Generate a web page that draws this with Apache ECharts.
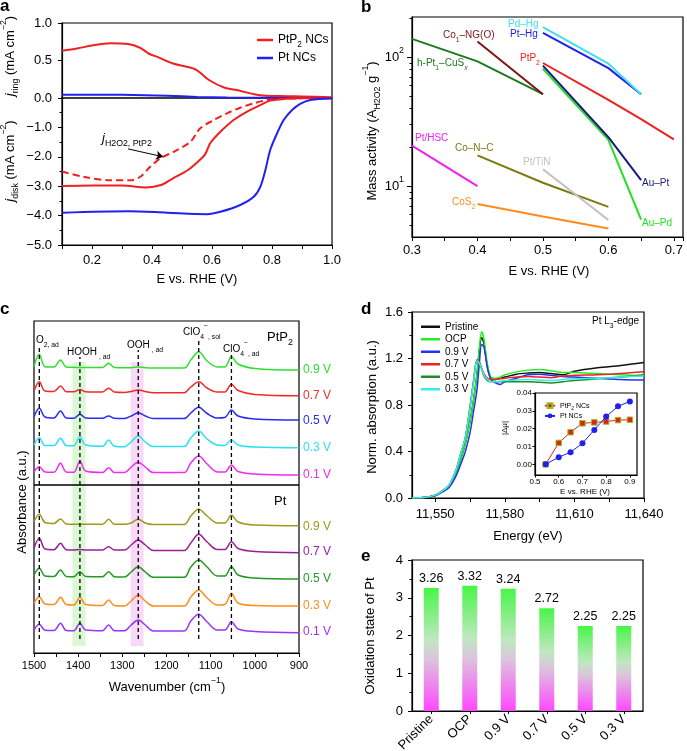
<!DOCTYPE html>
<html>
<head>
<meta charset="utf-8">
<script src="https://cdn.jsdelivr.net/npm/echarts@6.0.0/dist/echarts.min.js"></script>
<style>html,body{margin:0;padding:0;background:#fff;}#chart{width:687px;height:751px;}</style>
</head>
<body>
<div id="chart"></div>
<script>
// ---------------- Panel a data ----------------
const aRingPtP2V = [0.1, 0.15, 0.2, 0.26, 0.32, 0.36, 0.39, 0.42, 0.47, 0.54, 0.56, 0.59, 0.64, 0.69, 0.74, 0.78, 0.85, 0.9, 1.0];
const aRingPtP2J = [0.63, 0.66, 0.70, 0.73, 0.72, 0.67, 0.59, 0.545, 0.46, 0.39, 0.34, 0.24, 0.14, 0.10, 0.05, 0.03, 0.025, 0.02, 0.01];
const aRingPtV = [0.1, 0.3, 0.45, 0.55, 0.65, 0.8, 1.0];
const aRingPtJ = [0.045, 0.042, 0.03, 0.015, 0.008, 0.002, 0.0];
const aDiskPtP2V = [0.1, 0.2, 0.3, 0.38, 0.43, 0.47, 0.52, 0.56, 0.578, 0.594, 0.628, 0.672, 0.717, 0.761, 0.794, 0.84, 0.9, 1.0];
const aDiskPtP2J = [-2.99, -2.98, -2.98, -3.04, -2.96, -2.73, -2.45, -2.1, -1.9, -1.54, -1.15, -0.75, -0.46, -0.24, -0.09, -0.03, -0.01, 0];
const aH2O2V = [0.1, 0.172, 0.261, 0.328, 0.361, 0.394, 0.428, 0.472, 0.528, 0.561, 0.606, 0.65, 0.694, 0.739, 0.783, 0.82, 0.9];
const aH2O2J = [-2.5, -2.68, -2.8, -2.8, -2.68, -2.34, -2.05, -1.83, -1.49, -1.03, -0.75, -0.52, -0.33, -0.18, -0.07, -0.03, -0.01];
const aDiskPtV = [0.1, 0.322, 0.45, 0.583, 0.628, 0.694, 0.739, 0.761, 0.778, 0.794, 0.817, 0.839, 0.867, 0.894, 0.928, 1.0];
const aDiskPtJ = [-3.9, -3.85, -3.9, -3.95, -3.87, -3.64, -3.36, -3.02, -2.45, -1.77, -1.2, -0.75, -0.41, -0.2, -0.07, -0.02];

// ---------------- Panel b data (E, mass activity) ----------------
const bHPtCuS = [[0.3, 138], [0.4, 92.5], [0.5, 51.5]];
const bCoNGO = [[0.4, 132], [0.5, 51.5]];
const bPdHg = [[0.5, 170], [0.6, 88.8], [0.65, 51.5]];
const bPtHg = [[0.5, 154], [0.6, 82], [0.65, 51.5]];
const bPtP2 = [[0.5, 89.8], [0.6, 46.6], [0.65, 33], [0.7, 23]];
const bAuPt = [[0.5, 85.7], [0.6, 23.9], [0.65, 11.1]];
const bAuPd = [[0.5, 81], [0.6, 22.8], [0.65, 5.5]];
const bPtHSC = [[0.3, 20.6], [0.4, 10]];
const bCoNC = [[0.4, 17.3], [0.5, 10.6], [0.6, 6.9]];
const bPtTiN = [[0.5, 13.5], [0.6, 5.45]];
const bCoS2 = [[0.4, 7.25], [0.5, 5.8], [0.6, 4.69]];

// ---------------- Panel c data ----------------
const cWavenumber = [1500,1488,1475,1455,1440,1427,1410,1396,1383,1345,1331,1318,1295,1280,1264,1248,1230,1160,1145,1127,1108,1085,1068,1053,1038,1000,900];
const cPtP2_09 = [286.5,298.7,286.3,286,293,286,285.7,285.5,285.5,285.5,289.7,285.5,285.3,285.3,286,285.3,285,285,293,301.3,292,286,286,296.3,289,284.5,283];
const cPtP2_07 = [262,271.3,262,261.5,267,261.3,261.3,263.5,261.3,261,264.7,261,260.5,261.5,263,261.5,260.3,260.3,266,271.3,265,261,261,268.7,262.5,258.5,257.3];
const cPtP2_05 = [236.3,244.7,236,235,242,235,234.7,238.7,235,234.7,237,234.7,234.5,237,240.3,237,234.5,234.5,240,245.7,239.5,235,235.5,243,237,234,233];
const cPtP2_03 = [208,215.3,207.5,207.5,214.7,207.5,207.3,216.3,208,206.8,213,206.8,206.3,211,217,211,206.5,206.5,215,222,214,208,207.5,213,208,206,205.3];
const cPtP2_01 = [181.3,186.3,181,180.7,189.7,181,180.7,192,182,180.5,185.3,180.5,180.5,186,190.7,186,180.5,180.5,190,197,189,181,181,188,181.5,179,178];
const cPt_09 = [131.3,138.7,130.5,129.5,134,129,128.7,128.8,128.7,128.7,133.7,128.7,128.7,130,133.7,130,128.5,128.5,137,143.7,137,130,130,138,131,128,127.3];
const cPt_07 = [104.7,114.7,104,103.3,109.7,103.3,103,103.5,103,103,106.3,103,103,108,113,108,102.5,102.5,110,118.7,111,103.5,103.5,111.3,104.5,101.5,100.3];
const cPt_05 = [78,84.7,77,76.5,83,76.5,76.3,81.3,76.5,76.3,81.3,76.3,76,81,86.3,81,75.8,75.8,86,93,86,77,77,86.3,78,75,74];
const cPt_03 = [49.7,56.3,49,48.5,55.7,48.5,48,55.7,48.5,47.5,53,47.5,47,52,58,52,47,47,56,63,55,48,48.5,59.7,50,47.5,47];
const cPt_01 = [23,28.7,22.8,22.5,29.7,22.5,22.3,29.7,23,22.3,28,22.3,22.3,28,33,28,22,22,32,38.7,31,23,23,31.3,24,21.5,20.3];
const cPeakLines = [[1488, 308], [1396, 296], [1264, 303], [1127, 314], [1053, 298]];
const cPeakLineBottom = 14;
const cBandRanges = [[1413, 1383], [1281, 1252]];
const cBandY = [7, 291];
const cDivider = 168.7;

// ---------------- Panel d data ----------------
const dEnergy = [11540,11546,11550,11553,11556,11559,11561,11563,11565,11566.5,11568,11569,11570,11571,11572.5,11574,11576,11578,11580,11585,11590,11595,11600,11605,11610,11620,11630,11640];
const dPristine = [0,0.006,0.022,0.055,0.10,0.21,0.33,0.47,0.66,0.84,1.06,1.26,1.38,1.33,1.13,1.03,1.02,1.03,1.04,1.065,1.075,1.08,1.07,1.06,1.09,1.12,1.14,1.165];
const dOCP = [0,0.006,0.022,0.055,0.10,0.21,0.33,0.47,0.66,0.84,1.07,1.29,1.43,1.37,1.15,1.04,1.03,1.04,1.06,1.085,1.10,1.105,1.095,1.08,1.08,1.07,1.06,1.05];
const dV09 = [0,0.005,0.02,0.05,0.09,0.19,0.29,0.40,0.56,0.74,0.93,1.15,1.32,1.30,1.12,1.02,0.99,0.977,1.0,1.03,1.06,1.065,1.055,1.045,1.04,1.03,1.02,1.015];
const dV07 = [0,0.006,0.025,0.06,0.11,0.24,0.38,0.52,0.78,1.0,1.19,1.17,1.12,1.07,1.03,1.02,1.02,1.025,1.03,1.04,1.045,1.04,1.035,1.05,1.055,1.06,1.07,1.085];
const dV05 = [0,0.006,0.025,0.06,0.11,0.24,0.38,0.52,0.78,1.0,1.18,1.16,1.11,1.05,1.01,1.0,1.0,1.0,1.0,1.0,1.0,0.995,0.99,1.0,1.01,1.025,1.04,1.06];
const dV03 = [0,0.006,0.025,0.06,0.11,0.24,0.38,0.52,0.77,0.99,1.18,1.16,1.11,1.06,1.02,1.0,1.0,1.005,1.01,1.015,1.02,1.015,1.01,1.02,1.025,1.03,1.04,1.05];
const insetV = [0.545, 0.6, 0.65, 0.7, 0.75, 0.8, 0.85, 0.9];
const insetPtP2 = [0, 0.012, 0.018, 0.023, 0.0235, 0.024, 0.0248, 0.025];
const insetPt = [0, 0.004, 0.0068, 0.0118, 0.0193, 0.0268, 0.0325, 0.0353];

// ---------------- Panel e data ----------------
const eCategories = ['Pristine', 'OCP', '0.9 V', '0.7 V', '0.5 V', '0.3 V'];
const eValues = [3.26, 3.32, 3.24, 2.72, 2.25, 2.25];

// ---------------- helpers ----------------
const FONT = '"Liberation Sans", Arial, Helvetica, sans-serif';
const K = '#000';
const zip = (xs, ys) => xs.map((x, i) => [x, ys[i]]);
const fmt1 = v => v.toFixed(1).replace('-', '\u2212');
function merge(a, b) {
  const o = Object.assign({}, a);
  for (const k in b) {
    const bv = b[k];
    if (bv && typeof bv === 'object' && !Array.isArray(bv) && a[k] && typeof a[k] === 'object') o[k] = merge(a[k], bv);
    else o[k] = bv;
  }
  return o;
}
function axis(extra) {
  return merge({
    axisLine: {show: true, onZero: false, lineStyle: {color: K, width: 1.2}},
    axisTick: {show: true, inside: false, length: 4, lineStyle: {color: K, width: 1}},
    minorTick: {show: false},
    axisLabel: {color: K, fontFamily: FONT, fontSize: 13},
    splitLine: {show: false},
    minorSplitLine: {show: false}
  }, extra);
}
function rich(size, color, lh) {
  const L = lh || size + 8, s = Math.round(size * 0.68 * 10) / 10;
  return {
    n: {fontFamily: FONT, fontSize: size, lineHeight: L, verticalAlign: 'middle', fill: color, color: color},
    i: {fontFamily: FONT, fontSize: size, fontStyle: 'italic', lineHeight: L, verticalAlign: 'middle', fill: color, color: color},
    b: {fontFamily: FONT, fontSize: s, lineHeight: L / 2, verticalAlign: 'bottom', fill: color, color: color},
    bi: {fontFamily: FONT, fontSize: s, fontStyle: 'italic', lineHeight: L / 2, verticalAlign: 'bottom', fill: color, color: color},
    p: {fontFamily: FONT, fontSize: s, lineHeight: L / 2, verticalAlign: 'top', fill: color, color: color}
  };
}
function T(x, y, text, o) {
  o = o || {};
  const size = o.size || 12, color = o.color || K;
  if (text.indexOf('{') < 0) text = '{n|' + text + '}';
  return {type: 'text', x: x, y: y, rotation: o.rot ? Math.PI / 2 : 0, z: 100, silent: true,
    style: {text: text, fill: color, fontFamily: FONT, fontSize: size, align: o.align || 'left', verticalAlign: 'middle', rich: rich(size, color)}};
}
function L(x, y, t) {
  return {type: 'text', x: x, y: y, z: 100, silent: true,
    style: {text: t, fill: K, fontFamily: FONT, fontSize: 17, fontWeight: 'bold', align: 'left', verticalAlign: 'middle'}};
}

// ---------------- layout ----------------
const grids = [
  {left: 62, top: 23, width: 270, height: 75},
  {left: 62, top: 98, width: 270, height: 147},
  {left: 412, top: 17, width: 271, height: 220},
  {left: 34, top: 321, width: 265, height: 332},
  {left: 412, top: 312, width: 232, height: 186},
  {left: 535, top: 393, width: 102, height: 82, backgroundColor: '#fff'},
  {left: 412, top: 560, width: 231, height: 151}
].map(g => Object.assign({show: true, borderColor: K, borderWidth: 1.2, backgroundColor: 'transparent', containLabel: false, outerBoundsMode: 'none'}, g));

const xAxes = [
  axis({gridIndex: 0, type: 'value', min: 0.1, max: 1.0, show: false}),
  axis({gridIndex: 1, type: 'value', min: 0.1, max: 1.0, interval: 0.1, axisLabel: {customValues: [0.2, 0.4, 0.6, 0.8, 1.0], formatter: fmt1, margin: 9}}),
  axis({gridIndex: 2, type: 'value', min: 0.3, max: 0.714, interval: 0.05, axisLabel: {customValues: [0.3, 0.4, 0.5, 0.6, 0.7], formatter: fmt1, margin: 7}}),
  axis({gridIndex: 3, type: 'value', inverse: true, min: 900, max: 1500, interval: 50, axisLabel: {customValues: [1500, 1400, 1300, 1200, 1100, 1000, 900], formatter: v => String(Math.round(v)), fontSize: 11, margin: 7}}),
  axis({gridIndex: 4, type: 'value', min: 11540, max: 11640, axisTick: {customValues: [11550, 11565, 11580, 11595, 11610, 11625, 11640]}, axisLabel: {customValues: [11550, 11580, 11610, 11640], formatter: v => String(v).replace(/(\d\d)(\d\d\d)$/, '$1,$2'), margin: 10}}),
  axis({gridIndex: 5, type: 'value', min: 0.5, max: 0.93, axisTick: {customValues: [0.5, 0.6, 0.7, 0.8, 0.9], length: 2.5}, axisLabel: {customValues: [0.5, 0.6, 0.7, 0.8, 0.9], formatter: fmt1, fontSize: 8, margin: 3}}),
  axis({gridIndex: 6, type: 'category', data: eCategories, axisTick: {alignWithLabel: true, length: 3}, axisLabel: {rotate: 45, interval: 0, fontSize: 13, margin: 6}})
];

const yAxes = [
  axis({gridIndex: 0, type: 'value', min: 0, max: 1, interval: 0.5, axisLabel: {formatter: fmt1, margin: 10}}),
  axis({gridIndex: 1, type: 'value', min: -5, max: 0, interval: 1, minorTick: {show: true, splitNumber: 2, length: 2.5, lineStyle: {color: K}}, axisLabel: {formatter: fmt1, showMaxLabel: false, margin: 10}}),
  axis({gridIndex: 2, type: 'log', logBase: 10, min: 4.03, max: 204, position: 'left', axisTick: {customValues: [10, 100], length: 5}, axisLabel: {customValues: [10, 100], margin: 8, formatter: v => '{n|10}{p|' + Math.round(Math.log10(v)) + '}', rich: rich(13, K)}}),
  axis({gridIndex: 2, type: 'log', logBase: 10, min: 4.03, max: 204, position: 'left', offset: 0, axisLine: {show: false}, axisTick: {customValues: [5, 6, 7, 8, 9, 20, 30, 40, 50, 60, 70, 80, 90, 200], length: 2.5}, axisLabel: {show: false}}),
  axis({gridIndex: 3, type: 'value', min: 0, max: 332, show: false}),
  axis({gridIndex: 4, type: 'value', min: 0, max: 1.6, interval: 0.4, minorTick: {show: true, splitNumber: 2, length: 2.5, lineStyle: {color: K}}, axisLabel: {formatter: fmt1, margin: 9}}),
  axis({gridIndex: 5, type: 'value', min: -0.006, max: 0.04, axisTick: {customValues: [0, 0.01, 0.02, 0.03, 0.04], length: 2.5}, axisLabel: {customValues: [0, 0.01, 0.02, 0.03, 0.04], formatter: v => v.toFixed(2), fontSize: 8, margin: 3}}),
  axis({gridIndex: 6, type: 'value', min: 0, max: 4, interval: 1, minorTick: {show: true, splitNumber: 2, length: 2.5, lineStyle: {color: K}}, axisLabel: {margin: 9}})
];

function line(name, xi, yi, data, color, extra) {
  return merge({name: name, type: 'line', xAxisIndex: xi, yAxisIndex: yi, data: data, showSymbol: false, symbol: 'none',
    lineStyle: {color: color, width: 2}, itemStyle: {color: color}, z: 3, silent: true}, extra || {});
}

const series = [];
// Panel a
series.push(line('PtP2 NCs', 0, 0, zip(aRingPtP2V, aRingPtP2J), '#f02020', {smooth: 0.3}));
series.push(line('Pt NCs', 0, 0, zip(aRingPtV, aRingPtJ), '#2020f0', {smooth: 0.3}));
series.push(line('PtP2 disk', 1, 1, zip(aDiskPtP2V, aDiskPtP2J), '#f02020', {smooth: 0.3}));
series.push(line('PtP2 H2O2', 1, 1, zip(aH2O2V, aH2O2J), '#f02020', {smooth: 0.3, lineStyle: {type: [7, 4]},
  markLine: {silent: true, symbol: ['none', 'arrow'], symbolSize: 7, label: {show: false},
    lineStyle: {color: K, width: 1, type: 'solid'}, data: [[{coord: [0.32, -1.73]}, {coord: [0.437, -2.0]}]]}}));
series.push(line('Pt disk', 1, 1, zip(aDiskPtV, aDiskPtJ), '#2020f0', {smooth: 0.3}));

// Panel b
[[bHPtCuS, '#1e7a1e'], [bCoNGO, '#7f1414'], [bPtHg, '#2020f0'], [bPdHg, '#3ee0f0'], [bPtP2, '#f02020'],
 [bAuPd, '#22e022'], [bAuPt, '#1a1a80'], [bPtHSC, '#f020f0'], [bCoNC, '#7a7a10'], [bPtTiN, '#c0c0c0'], [bCoS2, '#ff8c1a']]
  .forEach((d, i) => series.push(line('b' + i, 2, 2, d[0], d[1])));

// Panel c
series.push(line('c-bands', 3, 4, [[1500, 0]], 'rgba(0,0,0,0)', {z: 1, lineStyle: {width: 0},
  markArea: {silent: true, data: [
    [{xAxis: cBandRanges[0][0], yAxis: cBandY[0], itemStyle: {color: 'rgba(175,240,160,0.45)'}}, {xAxis: cBandRanges[0][1], yAxis: cBandY[1]}],
    [{xAxis: cBandRanges[1][0], yAxis: cBandY[0], itemStyle: {color: 'rgba(240,170,240,0.45)'}}, {xAxis: cBandRanges[1][1], yAxis: cBandY[1]}]
  ]},
  markLine: {silent: true, symbol: ['none', 'none'], label: {show: false}, lineStyle: {color: K, width: 1.5, type: 'solid'}, data: [{yAxis: cDivider}]}}));
const cSpectra = [
  ['PtP2 0.9 V', cPtP2_09, '#2ee02e'], ['PtP2 0.7 V', cPtP2_07, '#f02a2a'], ['PtP2 0.5 V', cPtP2_05, '#2a2af0'],
  ['PtP2 0.3 V', cPtP2_03, '#2ae0f0'], ['PtP2 0.1 V', cPtP2_01, '#f02af0'],
  ['Pt 0.9 V', cPt_09, '#9a9a1e'], ['Pt 0.7 V', cPt_07, '#9a1e9a'], ['Pt 0.5 V', cPt_05, '#229a22'],
  ['Pt 0.3 V', cPt_03, '#ff8c1a'], ['Pt 0.1 V', cPt_01, '#9a33ff']
];
cSpectra.forEach(s => series.push(line(s[0], 3, 4, zip(cWavenumber, s[1]), s[2], {smooth: 0.35, lineStyle: {width: 1.5}})));
cPeakLines.forEach((p, i) => series.push(line('peak' + i, 3, 4, [[p[0], cPeakLineBottom], [p[0], p[1]]], K, {z: 5, lineStyle: {width: 1.3, type: [4, 3]}})));

// Panel d
[['Pristine', dPristine, '#111111'], ['OCP', dOCP, '#22ee22'], ['0.9 V', dV09, '#2233ee'],
 ['0.7 V', dV07, '#ee2222'], ['0.5 V', dV05, '#228b22'], ['0.3 V', dV03, '#33eeee']]
  .forEach(s => series.push(line(s[0], 4, 5, zip(dEnergy, s[1]), s[2], {smooth: 0.3, lineStyle: {width: 1.5}})));
series.push(line('PtP2 NCs ', 5, 6, zip(insetV, insetPtP2), '#f02020', {showSymbol: true, symbol: 'rect', symbolSize: 5.5, z: 6,
  lineStyle: {width: 1}, itemStyle: {color: '#e02020', borderColor: '#8fc31f', borderWidth: 1}}));
series.push(line('Pt NCs ', 5, 6, zip(insetV, insetPt), '#2020f0', {showSymbol: true, symbol: 'circle', symbolSize: 6, z: 7,
  lineStyle: {width: 1}, itemStyle: {color: '#2020f0'}}));

// Panel e
series.push({name: 'Oxidation state', type: 'bar', xAxisIndex: 6, yAxisIndex: 7, data: eValues, barWidth: 15, silent: true,
  itemStyle: {color: new echarts.graphic.LinearGradient(0, 0, 0, 1, [
    {offset: 0, color: '#48f548'}, {offset: 0.42, color: '#bfe8bf'}, {offset: 0.58, color: '#dcc4dc'}, {offset: 1, color: '#ff48ff'}])},
  label: {show: true, position: 'top', distance: 3, color: K, fontFamily: FONT, fontSize: 12.5, formatter: p => p.value.toFixed(2)}});

const legends = [
  {data: ['PtP2 NCs', 'Pt NCs'], left: 252, top: 26, orient: 'vertical', icon: 'rect', itemWidth: 16, itemHeight: 2.5, itemGap: 0,
    selectedMode: false, formatter: n => n === 'PtP2 NCs' ? '{n|PtP}{b|2}{n| NCs}' : '{n|Pt NCs}',
    textStyle: {fontFamily: FONT, fontSize: 12, color: K, lineHeight: 18, rich: rich(12, K, 18)}},
  {data: ['Pristine', 'OCP', '0.9 V', '0.7 V', '0.5 V', '0.3 V'], left: 416, top: 315.5, orient: 'vertical', icon: 'rect',
    itemWidth: 19, itemHeight: 2.5, itemGap: 0, selectedMode: false,
    textStyle: {fontFamily: FONT, fontSize: 10, color: K, lineHeight: 12.5}},
  {data: ['PtP2 NCs ', 'Pt NCs '], left: 539, top: 395.5, orient: 'vertical', itemWidth: 10, itemHeight: 6, itemGap: 0, selectedMode: false,
    formatter: n => n === 'PtP2 NCs ' ? '{n|PtP}{b|2}{n| NCs}' : '{n|Pt NCs}',
    textStyle: {fontFamily: FONT, fontSize: 7, color: K, lineHeight: 10.3, rich: rich(7, K, 10.3)}}
];

const graphics = [
  L(0, 6, 'a'), L(361, 7, 'b'), L(0, 309, 'c'), L(361, 309, 'd'), L(361, 556, 'e'),
  // panel a
  T(10, 56, '{i|j}{b|ring}{n| (mA cm}{p|\u22122}{n|)}', {size: 13, rot: true, align: 'center'}),
  T(10, 161, '{i|j}{b|disk}{n| (mA cm}{p|\u22122}{n|)}', {size: 13, rot: true, align: 'center'}),
  T(197, 279, 'E vs. RHE (V)', {size: 13, align: 'center'}),
  T(102, 138, '{i|j}{b|H2O2, PtP2}', {size: 13}),
  // panel b
  T(372, 131, '{n|Mass activity (A}{b|H2O2}{n| g}{p|\u22121}{n|)}', {size: 13, rot: true, align: 'center'}),
  T(549, 271, 'E vs. RHE (V)', {size: 13, align: 'center'}),
  T(508, 24, 'Pd\u2013Hg', {size: 10, color: '#3ee0f0'}),
  T(510, 34, 'Pt\u2013Hg', {size: 10, color: '#2020f0'}),
  T(443, 35, '{n|Co}{b|1}{n|\u2013NG(O)}', {size: 10, color: '#7f1414'}),
  T(520, 58, '{n|PtP}{b|2}', {size: 10, color: '#f02020'}),
  T(417, 63, '{n|h-Pt}{b|1}{n|\u2013CuS}{bi|x}', {size: 10, color: '#1e7a1e'}),
  T(415, 138, 'Pt/HSC', {size: 10, color: '#f020f0'}),
  T(455, 148, 'Co\u2013N\u2013C', {size: 10, color: '#7a7a10'}),
  T(523, 162, 'Pt/TiN', {size: 10, color: '#c0c0c0'}),
  T(642, 183, 'Au\u2013Pt', {size: 10, color: '#1a1a80'}),
  T(452, 202, '{n|CoS}{b|2}', {size: 10, color: '#ff8c1a'}),
  T(642, 223, 'Au\u2013Pd', {size: 10, color: '#22e022'}),
  // panel c
  T(22, 502, 'Absorbance (a.u.)', {size: 13, rot: true, align: 'center'}),
  T(167, 687, '{n|Wavenumber (cm}{p|\u22121}{n|)}', {size: 13, align: 'center'}),
  T(36, 340, '{n|O}{b|2, ad}', {size: 10}),
  T(67, 352, '{n|HOOH}{b| , ad}', {size: 10}),
  T(127, 345, '{n|OOH}{b| , ad}', {size: 10}),
  T(183, 332, '{n|ClO}{b|4}{p|\u2212}{b|, sol}', {size: 10}),
  T(223, 349, '{n|ClO}{b|4}{p|\u2212}{b|, ad}', {size: 10}),
  T(267, 337, '{n|PtP}{b|2}', {size: 13}),
  T(274, 501, 'Pt', {size: 13}),
  T(303, 370, '0.9 V', {size: 12, color: '#2ee02e'}),
  T(303, 396, '0.7 V', {size: 12, color: '#f02a2a'}),
  T(303, 421, '0.5 V', {size: 12, color: '#2a2af0'}),
  T(303, 448, '0.3 V', {size: 12, color: '#2ae0f0'}),
  T(303, 475, '0.1 V', {size: 12, color: '#f02af0'}),
  T(303, 527, '0.9 V', {size: 12, color: '#9a9a1e'}),
  T(303, 552, '0.7 V', {size: 12, color: '#9a1e9a'}),
  T(303, 579, '0.5 V', {size: 12, color: '#229a22'}),
  T(303, 606, '0.3 V', {size: 12, color: '#ff8c1a'}),
  T(303, 632, '0.1 V', {size: 12, color: '#9a33ff'}),
  // panel d
  T(372, 407, 'Norm. absorption (a.u.)', {size: 13, rot: true, align: 'center'}),
  T(528, 536, 'Energy (eV)', {size: 13, align: 'center'}),
  T(592, 321, '{n|Pt L}{b|3}{n|-edge}', {size: 10}),
  T(505, 428, '|\u0394\u03bc|', {size: 8, rot: true, align: 'center'}),
  T(585, 492, 'E vs. RHE (V)', {size: 8, align: 'center'}),
  // panel e
  T(370, 636, 'Oxidation state of Pt', {size: 13, rot: true, align: 'center'})
];

const chart = echarts.init(document.getElementById('chart'), null, {renderer: 'canvas'});
chart.setOption({
  animation: false,
  backgroundColor: '#fff',
  textStyle: {fontFamily: FONT},
  grid: grids,
  xAxis: xAxes,
  yAxis: yAxes,
  legend: legends,
  series: series,
  graphic: {elements: graphics}
});
</script>
</body>
</html>
